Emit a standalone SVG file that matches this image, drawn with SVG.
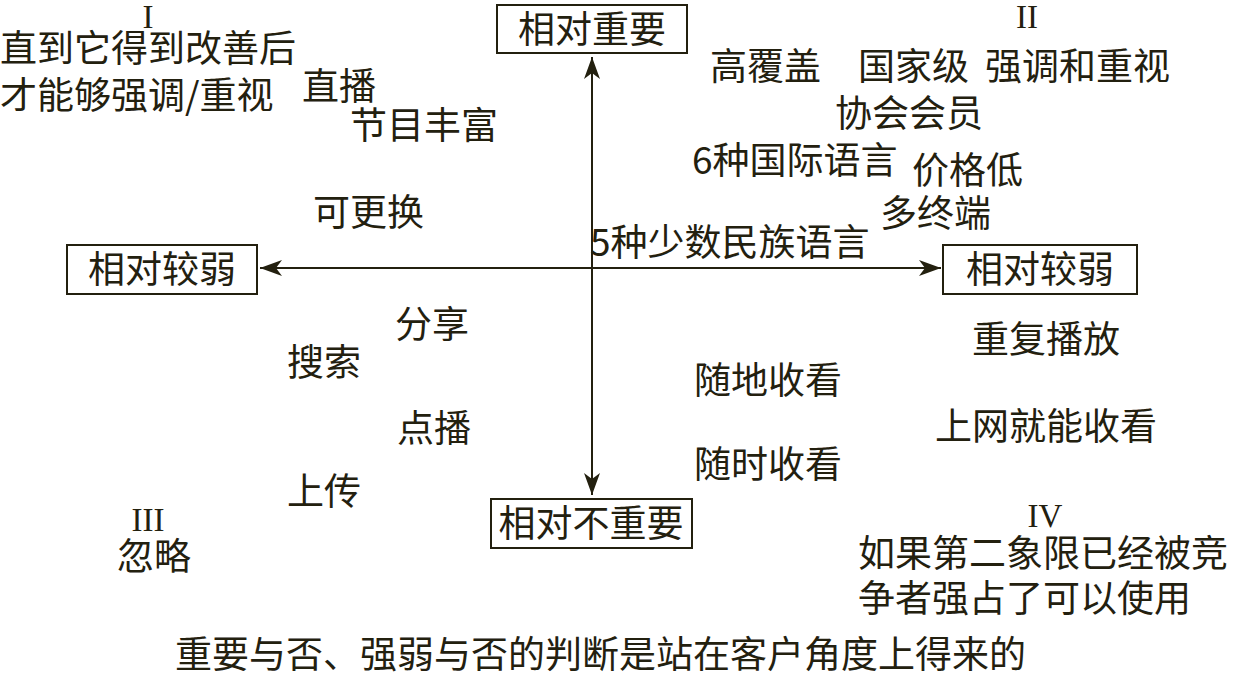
<svg xmlns="http://www.w3.org/2000/svg" width="1233" height="680" viewBox="0 0 1233 680">
<style>
text{font-family:"Noto Sans CJK SC","Noto Sans CJK JP",sans-serif;font-size:37px;fill:#23200f}
.num{font-family:"Liberation Serif",serif;font-size:33px;text-anchor:middle}
.box{fill:none;stroke:#23200f;stroke-width:2}
.mid{text-anchor:middle}
.ax{stroke:#23200f;stroke-width:2;fill:none}
</style>
<defs>
<marker id="ah" markerUnits="userSpaceOnUse" markerWidth="24" markerHeight="18" viewBox="-22 -9 24 18" refX="0" refY="0" orient="auto-start-reverse">
<path d="M0,0 L-22,-8 L-16,0 L-22,8 Z" fill="#23200f"/>
</marker>
</defs>
<rect width="1233" height="680" fill="#fff"/>
<g id="connectors">
<line class="ax" x1="592" y1="57" x2="592" y2="495" marker-start="url(#ah)" marker-end="url(#ah)"/>
<line class="ax" x1="260" y1="268" x2="941" y2="268" marker-start="url(#ah)" marker-end="url(#ah)"/>
</g>
<g id="top"><rect class="box" x="497" y="5" width="190" height="48"/><text class="mid" x="592" y="43">相对重要</text></g>
<g id="bottom"><rect class="box" x="491" y="499" width="201" height="49"/><text class="mid" x="591" y="537">相对不重要</text></g>
<g id="left"><rect class="box" x="67" y="245" width="190" height="49"/><text class="mid" x="162" y="283">相对较弱</text></g>
<g id="right"><rect class="box" x="943" y="245" width="194" height="49"/><text class="mid" x="1040" y="283">相对较弱</text></g>
<g id="q1">
<text class="num" x="148" y="28">I</text>
<text x="0" y="62">直到它得到改善后</text>
<text x="0" y="109">才能够强调/重视</text>
<text x="302" y="100">直播</text>
<text x="350" y="139">节目丰富</text>
<text x="313" y="226">可更换</text>
</g>
<g id="q2">
<text class="num" x="1027" y="28">II</text>
<text x="710" y="80">高覆盖</text>
<text x="858" y="80">国家级</text>
<text x="985" y="80">强调和重视</text>
<text x="835" y="127">协会会员</text>
<text x="692" y="174">6种国际语言</text>
<text x="912" y="184">价格低</text>
<text x="880" y="227">多终端</text>
<text x="590" y="256">5种少数民族语言</text>
</g>
<g id="q3">
<text x="395" y="338">分享</text>
<text x="287" y="376">搜索</text>
<text x="397" y="442">点播</text>
<text x="287" y="505">上传</text>
<text class="num" x="148" y="531">III</text>
<text x="117" y="570">忽略</text>
</g>
<g id="q4">
<text x="972" y="353">重复播放</text>
<text x="694" y="394">随地收看</text>
<text x="935" y="440">上网就能收看</text>
<text x="694" y="478">随时收看</text>
<text class="num" x="1045" y="527">IV</text>
<text x="858" y="567">如果第二象限已经被竞</text>
<text x="858" y="612">争者强占了可以使用</text>
</g>
<g id="caption"><text x="175" y="668">重要与否、强弱与否的判断是站在客户角度上得来的</text></g>
</svg>
